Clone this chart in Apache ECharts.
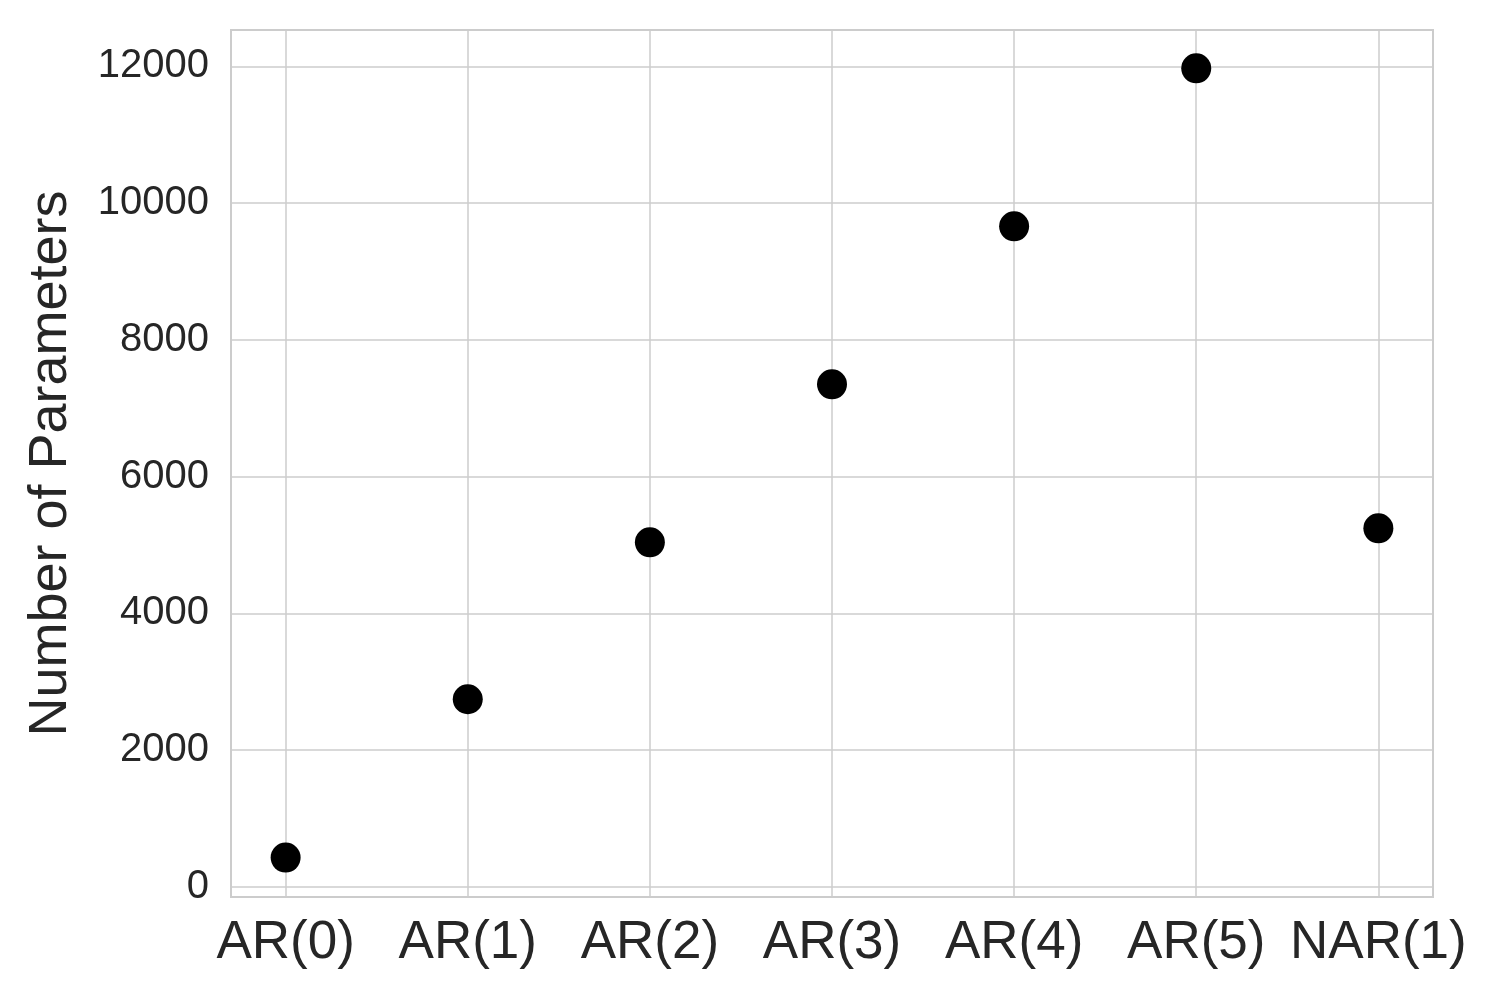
<!DOCTYPE html>
<html>
<head>
<meta charset="utf-8">
<script src="https://cdn.jsdelivr.net/npm/echarts@6/dist/echarts.min.js"></script>
<style>
  html, body { margin: 0; padding: 0; background: #fff; }
  #main { width: 1500px; height: 1000px; }
</style>
</head>
<body>
<div id="main"></div>
<script>
var models = ["AR(0)", "AR(1)", "AR(2)", "AR(3)", "AR(4)", "AR(5)", "NAR(1)"];
var paramCounts = [430, 2745, 5040, 7350, 9660, 11970, 5245];
var yTicks = [0, 2000, 4000, 6000, 8000, 10000, 12000];

var font = "Liberation Sans, Arial, sans-serif";
var gridColor = "#cccccc";
var textColor = "#262626";

var points = [];
for (var i = 0; i < models.length; i++) points.push([i, paramCounts[i]]);
var xTicks = models.map(function (m, i) { return i; });

var chart = echarts.init(document.getElementById("main"));
chart.setOption({
    animation: false,
    backgroundColor: "#fff",
    grid: {
        left: 231, right: 67, top: 30, bottom: 103,
        show: true, borderColor: gridColor, borderWidth: 2
    },
    xAxis: {
        type: "value",
        min: -0.3,
        max: 6.3,
        axisLine: { show: false },
        axisTick: { show: false, customValues: xTicks },
        axisLabel: {
            customValues: xTicks,
            formatter: function (v) { return models[Math.round(v)]; },
            color: textColor, fontFamily: font, fontSize: 53, margin: 20
        },
        splitLine: { show: true, lineStyle: { color: gridColor, width: 1.5 } }
    },
    yAxis: {
        type: "value",
        min: -146,
        max: 12530,
        name: "Number of Parameters",
        nameLocation: "middle",
        nameGap: 153,
        nameTextStyle: { color: textColor, fontFamily: font, fontSize: 54 },
        axisLine: { show: false },
        axisTick: { show: false, customValues: yTicks },
        axisLabel: {
            customValues: yTicks,
            formatter: function (v) { return String(v); },
            color: textColor, fontFamily: font, fontSize: 40, margin: 22
        },
        splitLine: { show: true, lineStyle: { color: gridColor, width: 1.5 } }
    },
    series: [{
        type: "scatter",
        data: points,
        symbol: "circle",
        symbolSize: 30,
        itemStyle: { color: "#000", opacity: 1 }
    }]
});
</script>
</body>
</html>
